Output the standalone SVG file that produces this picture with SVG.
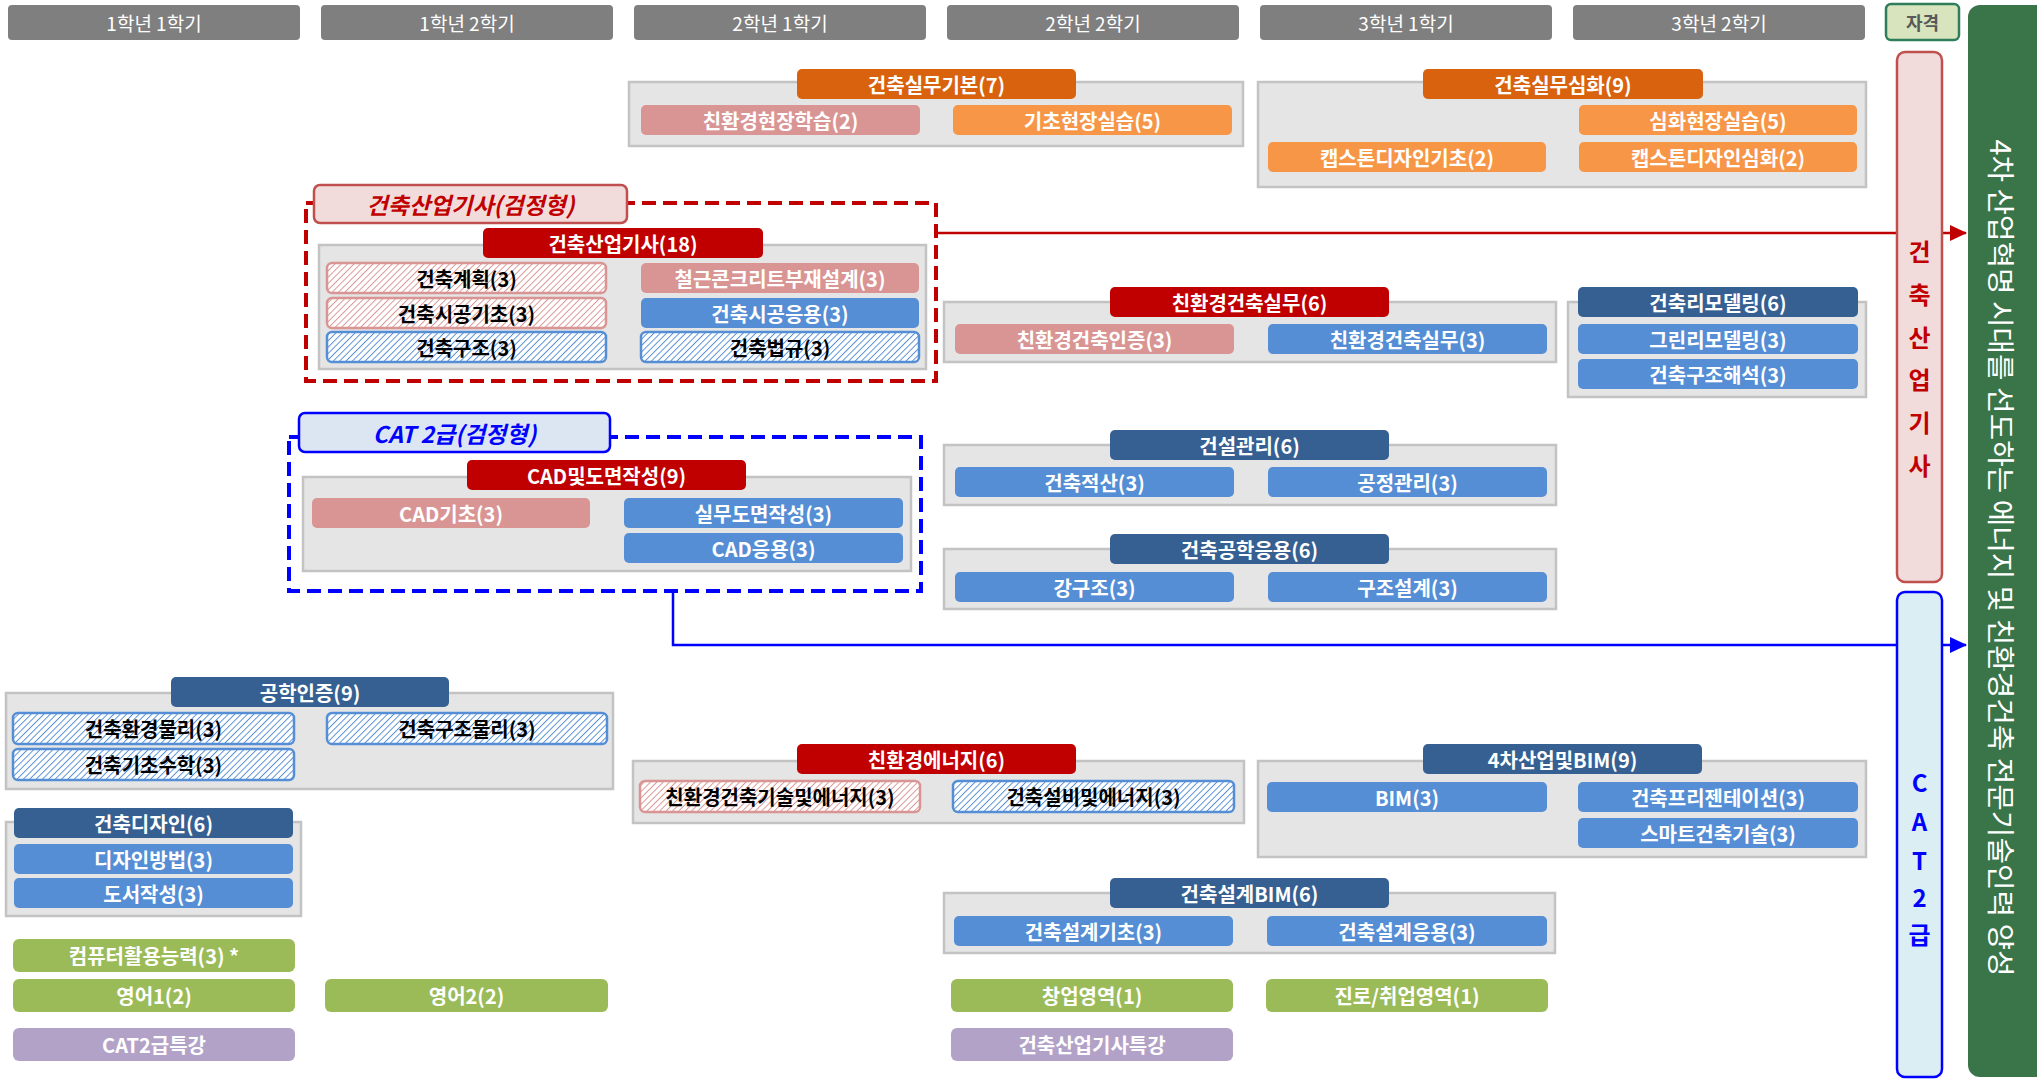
<svg xmlns="http://www.w3.org/2000/svg" width="2037" height="1079" viewBox="0 0 2037 1079">
<defs>
<pattern id="hatchP" patternUnits="userSpaceOnUse" width="4.5" height="4.5" patternTransform="rotate(45)">
<rect width="4.5" height="4.5" fill="#ffffff"/>
<line x1="0" y1="0" x2="0" y2="4.5" stroke="#d99594" stroke-width="1.9"/>
</pattern>
<pattern id="hatchB" patternUnits="userSpaceOnUse" width="4.5" height="4.5" patternTransform="rotate(45)">
<rect width="4.5" height="4.5" fill="#ffffff"/>
<line x1="0" y1="0" x2="0" y2="4.5" stroke="#558ed5" stroke-width="1.9"/>
</pattern>
<marker id="arrR" markerUnits="userSpaceOnUse" markerWidth="18" markerHeight="16" refX="16" refY="8" orient="auto">
<path d="M0,0 L17,8 L0,16 Z" fill="#c00000"/>
</marker>
<marker id="arrB" markerUnits="userSpaceOnUse" markerWidth="18" markerHeight="16" refX="16" refY="8" orient="auto">
<path d="M0,0 L17,8 L0,16 Z" fill="#0000ff"/>
</marker>
<style>
text{font-family:"Noto Sans CJK KR","Noto Sans",sans-serif;text-anchor:middle;dominant-baseline:central}
.hdr{fill:#7f7f7f}
.ht{fill:#ffffff;font-size:19px}
.box{fill:#e5e5e5;stroke:#c3c3c3;stroke-width:2.5}
.tor{fill:#d9620f}
.tred{fill:#c00000}
.tdb{fill:#366092}
.or{fill:#f79646}
.pk{fill:#d99594}
.bl{fill:#558ed5}
.gr{fill:#9bbb59}
.pu{fill:#b3a2c7}
.hp{fill:url(#hatchP);stroke:#d99594;stroke-width:2.5}
.hb{fill:url(#hatchB);stroke:#558ed5;stroke-width:2.5}
.w{fill:#ffffff;font-size:20px;font-weight:700}
.k{fill:#000000;font-size:20px;font-weight:700}
.lblR{fill:#f2dcdb;stroke:#c0504d;stroke-width:2.5}
.lblB{fill:#dce6f2;stroke:#0000ff;stroke-width:2.5}
.it{font-size:23px;font-weight:700;font-style:italic}
.dashR{fill:none;stroke:#c00000;stroke-width:4;stroke-dasharray:14 7}
.dashB{fill:none;stroke:#0000ff;stroke-width:4;stroke-dasharray:14 7}
.conR{fill:none;stroke:#c00000;stroke-width:2.5}
.conB{fill:none;stroke:#0000ff;stroke-width:2.5}
.vt{font-size:24px;font-weight:700}
</style>
</defs>
<rect width="2037" height="1079" fill="#ffffff"/>

<!-- headers -->
<g id="hdr-1-1"><rect class="hdr" x="8" y="5" width="292" height="35" rx="4"/><text class="ht" x="154" y="22.5">1학년 1학기</text></g>
<g id="hdr-1-2"><rect class="hdr" x="321" y="5" width="292" height="35" rx="4"/><text class="ht" x="467" y="22.5">1학년 2학기</text></g>
<g id="hdr-2-1"><rect class="hdr" x="634" y="5" width="292" height="35" rx="4"/><text class="ht" x="780" y="22.5">2학년 1학기</text></g>
<g id="hdr-2-2"><rect class="hdr" x="947" y="5" width="292" height="35" rx="4"/><text class="ht" x="1093" y="22.5">2학년 2학기</text></g>
<g id="hdr-3-1"><rect class="hdr" x="1260" y="5" width="292" height="35" rx="4"/><text class="ht" x="1406" y="22.5">3학년 1학기</text></g>
<g id="hdr-3-2"><rect class="hdr" x="1573" y="5" width="292" height="35" rx="4"/><text class="ht" x="1719" y="22.5">3학년 2학기</text></g>

<!-- connectors -->
<g id="connectors">
<path class="conR" d="M936,233 H1966" marker-end="url(#arrR)"/>
<path class="conB" d="M673,591 V645 H1966" marker-end="url(#arrB)"/>
</g>

<!-- 건축실무기본 -->
<g id="g-basic">
<rect class="box" x="629" y="82" width="614" height="64"/>
<g id="t-basic"><rect class="tor" x="797" y="69" width="279" height="30" rx="5"/><text class="w" x="936.5" y="84">건축실무기본(7)</text></g>
<g id="c-eco-field"><rect class="pk" x="641" y="105" width="279" height="30" rx="5"/><text class="w" x="780.5" y="120">친환경현장학습(2)</text></g>
<g id="c-basic-field"><rect class="or" x="953" y="105" width="279" height="30" rx="5"/><text class="w" x="1092.5" y="120">기초현장실습(5)</text></g>
</g>

<!-- 건축실무심화 -->
<g id="g-adv">
<rect class="box" x="1258" y="82" width="608" height="105"/>
<g id="t-adv"><rect class="tor" x="1423" y="69" width="280" height="30" rx="5"/><text class="w" x="1563" y="84">건축실무심화(9)</text></g>
<g id="c-adv-field"><rect class="or" x="1579" y="105" width="278" height="30" rx="5"/><text class="w" x="1718" y="120">심화현장실습(5)</text></g>
<g id="c-cap1"><rect class="or" x="1268" y="142" width="278" height="30" rx="5"/><text class="w" x="1407" y="157">캡스톤디자인기초(2)</text></g>
<g id="c-cap2"><rect class="or" x="1579" y="142" width="278" height="30" rx="5"/><text class="w" x="1718" y="157">캡스톤디자인심화(2)</text></g>
</g>

<!-- 건축산업기사 group -->
<g id="g-engineer">
<rect class="dashR" x="306" y="203" width="630" height="178"/>
<g id="lbl-engineer"><rect class="lblR" x="314" y="185" width="313" height="38" rx="6"/><text class="it" x="470.5" y="204" fill="#c00000">건축산업기사(검정형)</text></g>
<rect class="box" x="319" y="245" width="607" height="124"/>
<g id="t-engineer"><rect class="tred" x="483" y="228" width="280" height="30" rx="5"/><text class="w" x="623" y="243">건축산업기사(18)</text></g>
<g id="c-plan"><rect class="hp" x="327" y="263" width="279" height="30" rx="5"/><text class="k" x="466.5" y="278">건축계획(3)</text></g>
<g id="c-rc"><rect class="pk" x="641" y="263" width="278" height="30" rx="5"/><text class="w" x="780" y="278">철근콘크리트부재설계(3)</text></g>
<g id="c-const1"><rect class="hp" x="327" y="298" width="279" height="30" rx="5"/><text class="k" x="466.5" y="313">건축시공기초(3)</text></g>
<g id="c-const2"><rect class="bl" x="641" y="298" width="278" height="30" rx="5"/><text class="w" x="780" y="313">건축시공응용(3)</text></g>
<g id="c-struct"><rect class="hb" x="327" y="332" width="279" height="30" rx="5"/><text class="k" x="466.5" y="347">건축구조(3)</text></g>
<g id="c-law"><rect class="hb" x="641" y="332" width="278" height="30" rx="5"/><text class="k" x="780" y="347">건축법규(3)</text></g>
</g>

<!-- CAT 2급 group -->
<g id="g-cad">
<rect class="dashB" x="289" y="437" width="632" height="154"/>
<g id="lbl-cat"><rect class="lblB" x="299" y="413" width="311" height="39" rx="6"/><text class="it" x="454.5" y="432.5" fill="#0000ff">CAT 2급(검정형)</text></g>
<rect class="box" x="303" y="477" width="608" height="94"/>
<g id="t-cad"><rect class="tred" x="467" y="460" width="279" height="30" rx="5"/><text class="w" x="606.5" y="475">CAD및도면작성(9)</text></g>
<g id="c-cad1"><rect class="pk" x="312" y="498" width="278" height="30" rx="5"/><text class="w" x="451" y="513">CAD기초(3)</text></g>
<g id="c-draw"><rect class="bl" x="624" y="498" width="279" height="30" rx="5"/><text class="w" x="763.5" y="513">실무도면작성(3)</text></g>
<g id="c-cad2"><rect class="bl" x="624" y="533" width="279" height="30" rx="5"/><text class="w" x="763.5" y="548">CAD응용(3)</text></g>
</g>

<!-- 친환경건축실무 -->
<g id="g-eco">
<rect class="box" x="944" y="302" width="612" height="60"/>
<g id="t-eco"><rect class="tred" x="1110" y="287" width="279" height="30" rx="5"/><text class="w" x="1249.5" y="302">친환경건축실무(6)</text></g>
<g id="c-eco-cert"><rect class="pk" x="955" y="324" width="279" height="30" rx="5"/><text class="w" x="1094.5" y="339">친환경건축인증(3)</text></g>
<g id="c-eco-prac"><rect class="bl" x="1268" y="324" width="279" height="30" rx="5"/><text class="w" x="1407.5" y="339">친환경건축실무(3)</text></g>
</g>

<!-- 건축리모델링 -->
<g id="g-remodel">
<rect class="box" x="1568" y="302" width="298" height="95"/>
<g id="t-remodel"><rect class="tdb" x="1578" y="287" width="280" height="30" rx="5"/><text class="w" x="1718" y="302">건축리모델링(6)</text></g>
<g id="c-green"><rect class="bl" x="1578" y="324" width="280" height="30" rx="5"/><text class="w" x="1718" y="339">그린리모델링(3)</text></g>
<g id="c-analysis"><rect class="bl" x="1578" y="359" width="280" height="30" rx="5"/><text class="w" x="1718" y="374">건축구조해석(3)</text></g>
</g>

<!-- 건설관리 -->
<g id="g-mgmt">
<rect class="box" x="944" y="445" width="612" height="60"/>
<g id="t-mgmt"><rect class="tdb" x="1110" y="430" width="279" height="30" rx="5"/><text class="w" x="1249.5" y="445">건설관리(6)</text></g>
<g id="c-est"><rect class="bl" x="955" y="467" width="279" height="30" rx="5"/><text class="w" x="1094.5" y="482">건축적산(3)</text></g>
<g id="c-sched"><rect class="bl" x="1268" y="467" width="279" height="30" rx="5"/><text class="w" x="1407.5" y="482">공정관리(3)</text></g>
</g>

<!-- 건축공학응용 -->
<g id="g-app">
<rect class="box" x="944" y="549" width="612" height="60"/>
<g id="t-app"><rect class="tdb" x="1110" y="534" width="279" height="30" rx="5"/><text class="w" x="1249.5" y="549">건축공학응용(6)</text></g>
<g id="c-steel"><rect class="bl" x="955" y="572" width="279" height="30" rx="5"/><text class="w" x="1094.5" y="587">강구조(3)</text></g>
<g id="c-sdesign"><rect class="bl" x="1268" y="572" width="279" height="30" rx="5"/><text class="w" x="1407.5" y="587">구조설계(3)</text></g>
</g>

<!-- 공학인증 -->
<g id="g-abeek">
<rect class="box" x="6" y="693" width="607" height="96"/>
<g id="t-abeek"><rect class="tdb" x="171" y="677" width="278" height="30" rx="5"/><text class="w" x="310" y="692">공학인증(9)</text></g>
<g id="c-envphys"><rect class="hb" x="13" y="713" width="281" height="31" rx="5"/><text class="k" x="153.5" y="728.5">건축환경물리(3)</text></g>
<g id="c-strphys"><rect class="hb" x="327" y="713" width="280" height="31" rx="5"/><text class="k" x="467" y="728.5">건축구조물리(3)</text></g>
<g id="c-math"><rect class="hb" x="13" y="749" width="281" height="31" rx="5"/><text class="k" x="153.5" y="764.5">건축기초수학(3)</text></g>
</g>

<!-- 건축디자인 -->
<g id="g-design">
<rect class="box" x="6" y="822" width="295" height="94"/>
<g id="t-design"><rect class="tdb" x="14" y="808" width="279" height="30" rx="5"/><text class="w" x="153.5" y="823">건축디자인(6)</text></g>
<g id="c-method"><rect class="bl" x="14" y="844" width="279" height="30" rx="5"/><text class="w" x="153.5" y="859">디자인방법(3)</text></g>
<g id="c-doc"><rect class="bl" x="14" y="878" width="279" height="30" rx="5"/><text class="w" x="153.5" y="893">도서작성(3)</text></g>
</g>

<!-- 친환경에너지 -->
<g id="g-energy">
<rect class="box" x="633" y="761" width="611" height="62"/>
<g id="t-energy"><rect class="tred" x="797" y="744" width="279" height="30" rx="5"/><text class="w" x="936.5" y="759">친환경에너지(6)</text></g>
<g id="c-ecotech"><rect class="hp" x="640" y="781" width="280" height="31" rx="5"/><text class="k" x="780" y="796.5">친환경건축기술및에너지(3)</text></g>
<g id="c-mep"><rect class="hb" x="953" y="781" width="281" height="31" rx="5"/><text class="k" x="1093.5" y="796.5">건축설비및에너지(3)</text></g>
</g>

<!-- 4차산업및BIM -->
<g id="g-4ir">
<rect class="box" x="1258" y="761" width="608" height="96"/>
<g id="t-4ir"><rect class="tdb" x="1423" y="744" width="279" height="30" rx="5"/><text class="w" x="1562.5" y="759">4차산업및BIM(9)</text></g>
<g id="c-bim"><rect class="bl" x="1267" y="782" width="280" height="30" rx="5"/><text class="w" x="1407" y="797">BIM(3)</text></g>
<g id="c-pres"><rect class="bl" x="1578" y="782" width="280" height="30" rx="5"/><text class="w" x="1718" y="797">건축프리젠테이션(3)</text></g>
<g id="c-smart"><rect class="bl" x="1578" y="818" width="280" height="30" rx="5"/><text class="w" x="1718" y="833">스마트건축기술(3)</text></g>
</g>

<!-- 건축설계BIM -->
<g id="g-dbim">
<rect class="box" x="944" y="893" width="611" height="60"/>
<g id="t-dbim"><rect class="tdb" x="1110" y="878" width="279" height="30" rx="5"/><text class="w" x="1249.5" y="893">건축설계BIM(6)</text></g>
<g id="c-dbasic"><rect class="bl" x="954" y="916" width="279" height="30" rx="5"/><text class="w" x="1093.5" y="931">건축설계기초(3)</text></g>
<g id="c-dapp"><rect class="bl" x="1267" y="916" width="280" height="30" rx="5"/><text class="w" x="1407" y="931">건축설계응용(3)</text></g>
</g>

<!-- standalone -->
<g id="c-computer"><rect class="gr" x="13" y="939" width="282" height="33" rx="6"/><text class="w" x="154" y="955.5">컴퓨터활용능력(3) *</text></g>
<g id="c-eng1"><rect class="gr" x="13" y="979" width="282" height="33" rx="6"/><text class="w" x="154" y="995.5">영어1(2)</text></g>
<g id="c-eng2"><rect class="gr" x="325" y="979" width="283" height="33" rx="6"/><text class="w" x="466.5" y="995.5">영어2(2)</text></g>
<g id="c-startup"><rect class="gr" x="951" y="979" width="282" height="33" rx="6"/><text class="w" x="1092" y="995.5">창업영역(1)</text></g>
<g id="c-career"><rect class="gr" x="1266" y="979" width="282" height="33" rx="6"/><text class="w" x="1407" y="995.5">진로/취업영역(1)</text></g>
<g id="c-catsp"><rect class="pu" x="13" y="1028" width="282" height="33" rx="6"/><text class="w" x="154" y="1044.5">CAT2급특강</text></g>
<g id="c-engsp"><rect class="pu" x="951" y="1028" width="282" height="33" rx="6"/><text class="w" x="1092" y="1044.5">건축산업기사특강</text></g>

<!-- right side -->
<g id="hdr-cert"><rect x="1886" y="4" width="73" height="36" rx="5" fill="#d7e4bd" stroke="#2e7d5b" stroke-width="2.5"/><text x="1922.5" y="22" font-size="18" font-weight="700" fill="#595959">자격</text></g>
<g id="q-engineer"><rect x="1897" y="52" width="45" height="530" rx="8" fill="#f2dcdb" stroke="#c0504d" stroke-width="2.5"/>
<text class="vt" x="1919.5" fill="#c00000"><tspan x="1919.5" y="250">건</tspan><tspan x="1919.5" y="293">축</tspan><tspan x="1919.5" y="336">산</tspan><tspan x="1919.5" y="378">업</tspan><tspan x="1919.5" y="421">기</tspan><tspan x="1919.5" y="464">사</tspan></text></g>
<g id="q-cat"><rect x="1897" y="592" width="45" height="485" rx="8" fill="#dbeef4" stroke="#0000ff" stroke-width="2.5"/>
<text class="vt" x="1919.5" fill="#0000ff"><tspan x="1919.5" y="781">C</tspan><tspan x="1919.5" y="820">A</tspan><tspan x="1919.5" y="859">T</tspan><tspan x="1919.5" y="896">2</tspan><tspan x="1919.5" y="933">급</tspan></text></g>
<g id="goal"><rect x="1968" y="5" width="90" height="1072" rx="12" fill="#3a7449"/>
<text x="2002" y="558" transform="rotate(90 2002 558)" font-size="28" fill="#ffffff" textLength="837" lengthAdjust="spacingAndGlyphs">4차 산업혁명 시대를 선도하는 에너지 및 친환경건축 전문기술인력 양성</text></g>
</svg>
